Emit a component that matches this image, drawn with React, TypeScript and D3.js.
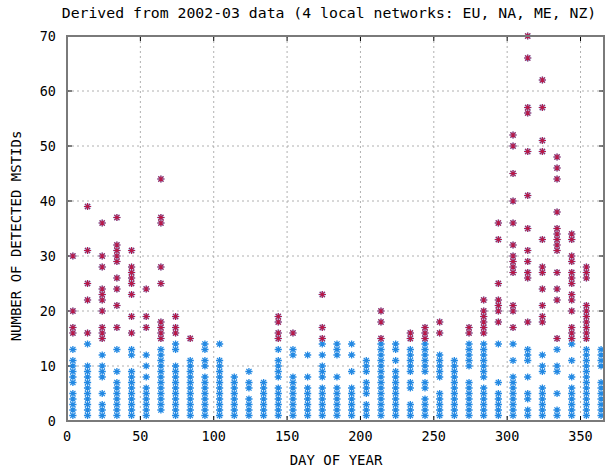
import React from 'react';
import * as d3 from 'd3';

// day of year for each column of points
const days = [4, 14, 24, 34, 44, 54, 64, 74, 84, 94, 104, 114, 124, 134, 144, 154, 164, 174, 184,
    194, 204, 214, 224, 234, 244, 254, 264, 274, 284, 294, 304, 314, 324, 334, 344, 354, 364];

// counts drawn as blue asterisks (one list per day)
const lowCounts = [
    [1, 2, 3, 4, 5, 7, 8, 9, 10, 11, 13],
    [1, 2, 3, 4, 5, 6, 7, 8, 9, 10, 14],
    [1, 2, 3, 5, 8, 9, 10, 12],
    [1, 2, 3, 4, 5, 6, 7, 9, 13],
    [1, 2, 3, 4, 5, 6, 7, 8, 9, 12, 13],
    [1, 2, 3, 4, 5, 6, 8, 10, 12],
    [2, 3, 4, 5, 6, 7, 8, 9, 10, 11, 12, 13],
    [1, 2, 3, 4, 5, 6, 7, 8, 9, 10, 13, 14],
    [1, 2, 3, 4, 5, 6, 7, 8, 9, 10, 11],
    [1, 2, 3, 4, 5, 6, 7, 8, 10, 11, 13, 14],
    [1, 2, 3, 4, 5, 6, 7, 8, 9, 10, 11, 14],
    [1, 2, 3, 4, 5, 6, 7, 8],
    [1, 2, 3, 4, 6, 7, 9],
    [1, 2, 3, 4, 5, 6, 7],
    [1, 2, 3, 4, 5, 6, 8, 9, 10, 11, 13],
    [1, 2, 3, 4, 5, 6, 7, 8, 12, 13],
    [1, 2, 3, 4, 5, 6, 8, 12],
    [1, 2, 3, 4, 5, 6, 8, 9, 10, 12, 14],
    [1, 2, 3, 4, 5, 6, 8, 12, 13, 14],
    [1, 2, 3, 4, 5, 6, 9, 12, 14],
    [1, 2, 3, 5, 6, 7, 9, 10, 11],
    [1, 2, 3, 4, 5, 6, 7, 8, 9, 10, 11, 12, 13, 14],
    [1, 2, 3, 4, 5, 6, 7, 8, 9, 11, 13, 14],
    [1, 2, 3, 6, 7, 9, 10, 11, 12, 13],
    [1, 2, 3, 4, 6, 7, 9, 10, 11, 12, 13, 14],
    [1, 2, 3, 4, 5, 8, 9, 10, 11, 12],
    [1, 2, 3, 4, 5, 6, 7, 8, 9, 10, 11],
    [1, 2, 3, 4, 5, 6, 7, 10, 11, 12, 13, 14],
    [1, 2, 3, 4, 5, 6, 8, 9, 10, 11, 12, 13, 14],
    [1, 2, 3, 4, 5, 7, 14],
    [1, 2, 3, 4, 5, 6, 7, 8, 11, 14],
    [1, 2, 4, 5, 8, 11, 12, 13],
    [1, 2, 3, 4, 5, 6, 9, 10, 12],
    [1, 2, 5, 9, 10, 13],
    [1, 2, 3, 4, 5, 6, 8, 11, 14],
    [1, 2, 3, 4, 5, 6, 7, 8, 9, 10, 11, 12, 13],
    [1, 2, 3, 4, 5, 6, 7, 10, 11, 12, 13],
];

// counts drawn as red asterisks (one list per day)
const highCounts = [
    [16, 17, 20, 30],
    [16, 22, 25, 31, 39],
    [15, 16, 17, 20, 22, 23, 24, 28, 30, 36],
    [17, 21, 24, 26, 29, 30, 31, 32, 37],
    [16, 19, 23, 25, 26, 27, 28, 31],
    [17, 19, 24],
    [15, 16, 17, 18, 25, 28, 36, 37, 44],
    [16, 17, 19],
    [15],
    [], [], [], [], [],
    [15, 16, 18, 19],
    [16],
    [],
    [15, 17, 23],
    [], [], [],
    [15, 18, 20],
    [],
    [15, 16],
    [15, 16, 17],
    [16, 18],
    [],
    [16, 17],
    [16, 17, 18, 19, 20, 22],
    [18, 20, 21, 22, 25, 33, 36],
    [17, 20, 21, 27, 28, 29, 30, 32, 36, 40, 45, 50, 52],
    [18, 26, 27, 29, 31, 35, 41, 49, 56, 57, 66, 70],
    [18, 19, 21, 24, 27, 28, 33, 49, 51, 57, 62],
    [15, 22, 24, 27, 31, 32, 33, 34, 35, 38, 44, 46, 48],
    [15, 16, 17, 20, 22, 23, 25, 26, 27, 29, 30, 33, 34],
    [15, 16, 17, 18, 19, 20, 21, 26, 27, 28],
    [],
];

const xTicks = [0, 50, 100, 150, 200, 250, 300, 350];
const yTicks = [0, 10, 20, 30, 40, 50, 60, 70];

const W = 605, H = 470;
const left = 67, right = 604, top = 36, bottom = 421;
const font = '"DejaVu Sans Mono", monospace';

function star(x: number, y: number, s: number) {
    const d = s * 0.72;
    return `M${x - s},${y}H${x + s}M${x},${y - s}V${y + s}` +
        `M${x - d},${y - d}L${x + d},${y + d}M${x - d},${y + d}L${x + d},${y - d}`;
}

export default function App() {
    const x = d3.scaleLinear().domain([0, 366]).range([left, right]);
    const y = d3.scaleLinear().domain([0, 70]).range([bottom, top]);

    const blue: string[] = [];
    const red: string[] = [];
    days.forEach((day, i) => {
        lowCounts[i].forEach((v) => blue.push(star(x(day), y(v), 3.6)));
        highCounts[i].forEach((v) => red.push(star(x(day), y(v), 3.6)));
    });

    return (
        <svg width={W} height={H} style={{ position: 'absolute', left: 0, top: 0, background: '#fff' }}>
            <text x={329} y={18} textAnchor="middle" fontFamily={font} fontSize={14.8}>
                Derived from 2002-03 data (4 local networks: EU, NA, ME, NZ)
            </text>

            {/* grid */}
            <g stroke="#b0b0b0" strokeWidth={1} strokeDasharray="2,3">
                {xTicks.slice(1).map((t) => (
                    <line key={'gx' + t} x1={x(t)} x2={x(t)} y1={top} y2={bottom} />
                ))}
                {yTicks.slice(1, -1).map((t) => (
                    <line key={'gy' + t} x1={left} x2={right} y1={y(t)} y2={y(t)} />
                ))}
            </g>

            {/* tick marks, mirrored */}
            <g stroke="#000" strokeWidth={1}>
                {xTicks.map((t) => (
                    <g key={'tx' + t}>
                        <line x1={x(t)} x2={x(t)} y1={bottom} y2={bottom - 5} />
                        <line x1={x(t)} x2={x(t)} y1={top} y2={top + 5} />
                    </g>
                ))}
                {yTicks.map((t) => (
                    <g key={'ty' + t}>
                        <line x1={left} x2={left + 5} y1={y(t)} y2={y(t)} />
                        <line x1={right} x2={right - 5} y1={y(t)} y2={y(t)} />
                    </g>
                ))}
            </g>

            {/* points */}
            <path d={blue.join('')} fill="none" stroke="#2389e3" strokeWidth={1.3} />
            <path d={red.join('')} fill="none" stroke="#7fb6ea" strokeWidth={1.6} />
            <path d={red.join('')} fill="none" stroke="#b81848" strokeWidth={1.1} />

            {/* frame */}
            <rect x={left} y={top} width={right - left} height={bottom - top} fill="none" stroke="#7a7a7a" strokeWidth={2} />

            <g fontFamily={font} fontSize={13.5}>
                {xTicks.map((t) => (
                    <text key={'lx' + t} x={x(t)} y={441} textAnchor="middle">{t}</text>
                ))}
                {yTicks.map((t) => (
                    <text key={'ly' + t} x={56} y={y(t) + 5} textAnchor="end">{t}</text>
                ))}
            </g>

            <text x={336} y={465} textAnchor="middle" fontFamily={font} fontSize={14}>DAY OF YEAR</text>
            <text transform="translate(21,236) rotate(-90)" textAnchor="middle" fontFamily={font} fontSize={14}>
                NUMBER OF DETECTED MSTIDs
            </text>
        </svg>
    );
}
